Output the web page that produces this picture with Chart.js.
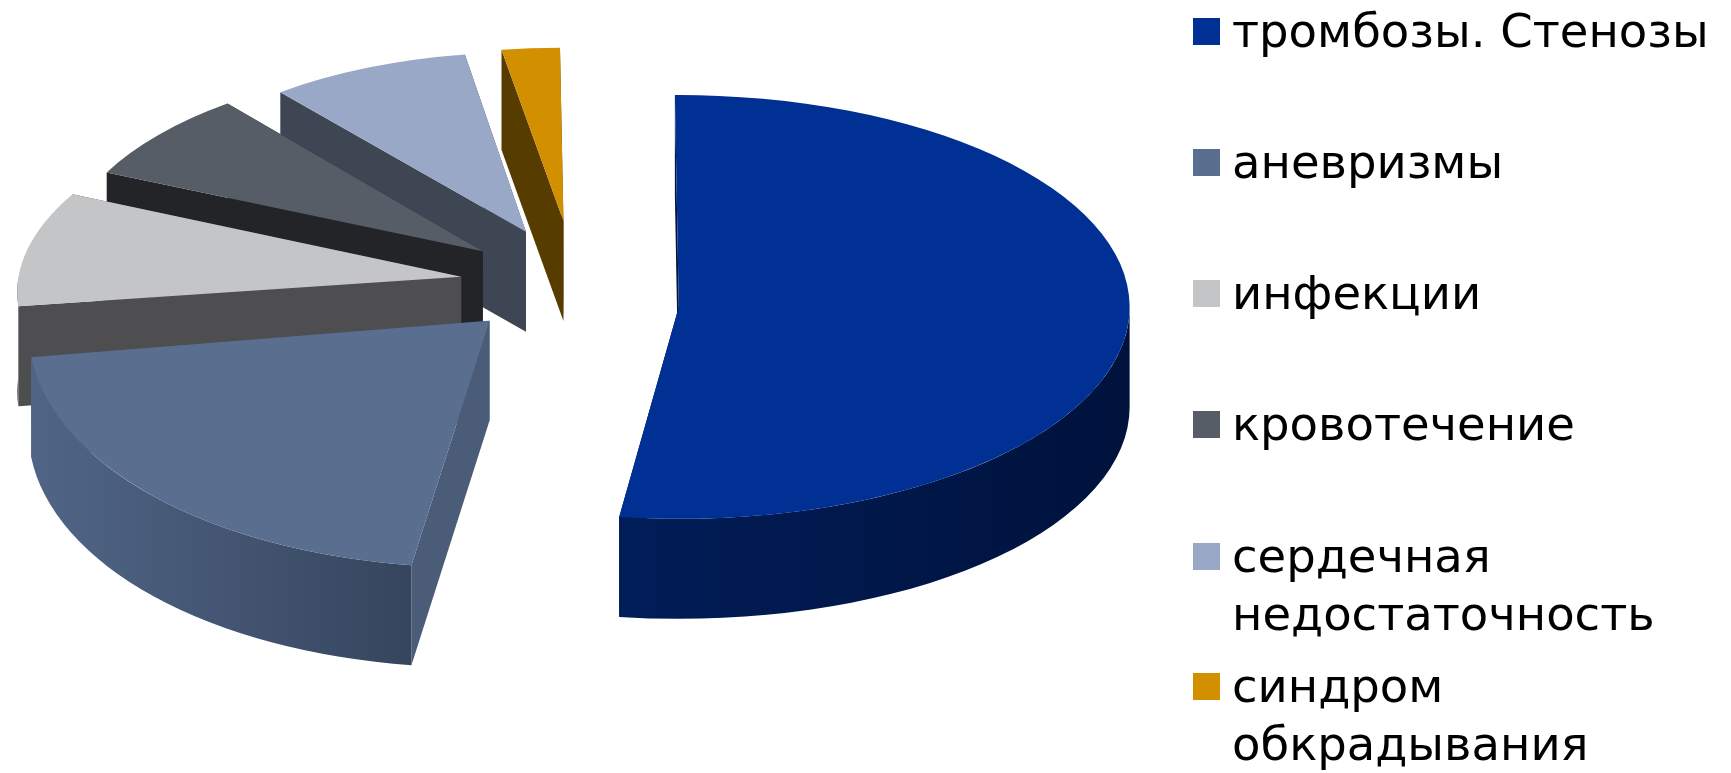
<!DOCTYPE html>
<html lang="ru">
<head>
<meta charset="utf-8">
<title>Причины</title>
<script src="https://cdn.jsdelivr.net/npm/chart.js@4"></script>
<style>
  html, body { margin: 0; padding: 0; background: #fff; }
  #wrap { position: relative; width: 1731px; height: 773px; overflow: hidden; }
  #legend { position: absolute; left: 0; top: 0; }
  .legend-item { position: absolute; left: 1193px; white-space: nowrap; font-family: "DejaVu Sans", sans-serif; font-size: 46.5px; line-height: 58px; color: #000; }
  .legend-box { position: absolute; left: 0; top: 0; width: 27px; height: 27px; }
  .legend-text { position: absolute; left: 39px; top: -16px; }
</style>
</head>
<body>
<div id="wrap">
  <canvas id="pieChart" width="1731" height="773"></canvas>
  <div id="legend"></div>
</div>
<script>
const categories = [
  'тромбозы. Стенозы',
  'аневризмы',
  'инфекции',
  'кровотечение',
  ['сердечная', 'недостаточность'],
  ['синдром', 'обкрадывания']
];
const shares = [52.25, 20.53, 9.17, 7.36, 8.33, 2.36];

// top face, cut face and rim colours for each slice
const topColors = ['#003094', '#5a6e8f', '#c4c5c7', '#565d66', '#9aa8c8', '#d29000'];
const cutColors = ['#00123c', '#4a5c78', '#4e4e50', '#232428', '#3e4553', '#573c00'];
const rimColors = [['#011d58', '#00123c'], ['#506586', '#35445c'], ['#4e4e50', '#4e4e50'],
  ['#232428', '#232428'], ['#3e4553', '#3e4553'], ['#573c00', '#573c00']];

// how far each slice is pulled out, and the per-slice tweaks of the fake 3D
const explode = [99, 129, 120, 123, 133, 200];
const lift = [19, -9, 0, 3, 6, 33];
const tilt = [0.47, 0.535, 0.45, 0.455, 0.46, 0.437];
const depthScale = [0.993, 1.015, 0.975, 0.92, 0.86, 0.873];
const skew = [0, -0.07, -0.17, -0.05, 0, 0];
const legendTops = [18, 149, 280, 411, 543, 673];

const PIE_DEPTH = 100;
const BASE_TILT = 0.487;

function sliceGeometry(arc, i) {
  const mid = (arc.startAngle + arc.endAngle) / 2;
  return {
    x: arc.x + explode[i] * Math.cos(mid),
    y: arc.y + explode[i] * BASE_TILT * Math.sin(mid) + lift[i],
    rx: arc.outerRadius * depthScale[i],
    ry: arc.outerRadius * depthScale[i] * tilt[i],
    skew: skew[i]
  };
}

function drawCutFace(ctx, g, angle, color) {
  const dy = g.ry * Math.sin(angle);
  const ex = g.x + g.rx * Math.cos(angle) + g.skew * dy;
  const ey = g.y + dy;
  ctx.fillStyle = color;
  ctx.beginPath();
  ctx.moveTo(g.x, g.y);
  ctx.lineTo(ex, ey);
  ctx.lineTo(ex, ey + PIE_DEPTH);
  ctx.lineTo(g.x, g.y + PIE_DEPTH);
  ctx.closePath();
  ctx.fill();
}

// adds one rim edge to the path, sheared around its own apex height
function addRimEdge(ctx, g, drop, from, to, back) {
  const cy = g.y + drop;
  ctx.save();
  ctx.transform(1, 0, g.skew, 1, -g.skew * cy, 0);
  ctx.ellipse(g.x, cy, g.rx, g.ry, 0, from, to, back);
  ctx.restore();
}

// only the part of the rim that faces the viewer (0..PI) gets a wall
function drawRim(ctx, g, start, end, colors) {
  const a0 = Math.max(start, 0);
  const a1 = Math.min(end, Math.PI);
  if (a1 <= a0) return;
  const x0 = g.x + g.rx * Math.cos(a1);
  const x1 = g.x + g.rx * Math.cos(a0);
  const grad = ctx.createLinearGradient(x0, 0, x1, 0);
  grad.addColorStop(0, colors[0]);
  grad.addColorStop(1, colors[1]);
  ctx.fillStyle = grad;
  ctx.beginPath();
  addRimEdge(ctx, g, PIE_DEPTH, a0, a1, false);
  addRimEdge(ctx, g, 0, a1, a0, true);
  ctx.closePath();
  ctx.fill();
}

const pie3d = {
  id: 'pie3d',
  beforeDatasetsDraw(chart) {
    const ctx = chart.ctx;
    const arcs = chart.getDatasetMeta(0).data;
    // back to front, so the nearer slices cover the walls behind them
    for (let i = arcs.length - 1; i >= 0; i--) {
      const arc = arcs[i];
      const g = sliceGeometry(arc, i);
      drawCutFace(ctx, g, arc.startAngle, cutColors[i]);
      drawCutFace(ctx, g, arc.endAngle, cutColors[i]);
      drawRim(ctx, g, arc.startAngle, arc.endAngle, rimColors[i]);

      ctx.save();
      ctx.translate(g.x, g.y);
      ctx.transform(1, 0, g.skew, 1, 0, 0);
      ctx.scale(depthScale[i], depthScale[i] * tilt[i]);
      ctx.translate(-arc.x, -arc.y);
      arc.draw(ctx);
      ctx.restore();
    }
    return false;
  }
};

new Chart(document.getElementById('pieChart'), {
  type: 'pie',
  data: {
    labels: categories,
    datasets: [{
      data: shares,
      backgroundColor: topColors,
      borderWidth: 0,
      hoverOffset: 0
    }]
  },
  options: {
    responsive: false,
    animation: false,
    rotation: -0.5,
    radius: 454,
    layout: { padding: { right: 571, bottom: 203 } },
    plugins: {
      legend: { display: false },
      tooltip: { enabled: false }
    }
  },
  plugins: [pie3d]
});

// legend rows sit at uneven heights, so it is built by hand
const legendEl = document.getElementById('legend');
categories.forEach((name, i) => {
  const item = document.createElement('div');
  item.className = 'legend-item';
  item.style.top = legendTops[i] + 'px';
  const box = document.createElement('span');
  box.className = 'legend-box';
  box.style.background = topColors[i];
  const text = document.createElement('span');
  text.className = 'legend-text';
  text.innerHTML = [].concat(name).join('<br>');
  item.append(box, text);
  legendEl.append(item);
});
</script>
</body>
</html>
